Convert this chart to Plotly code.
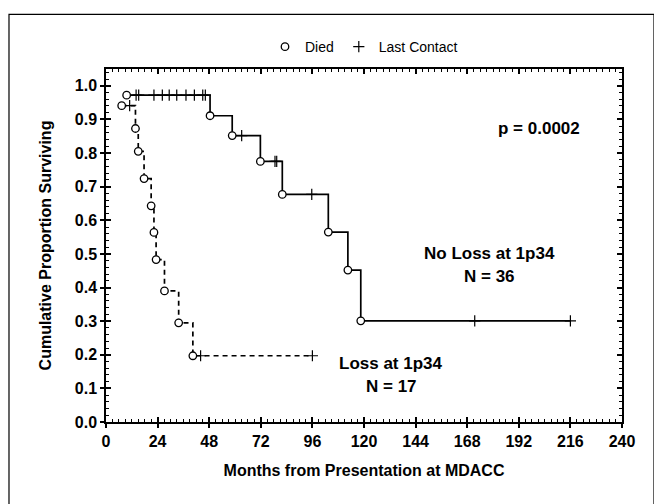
import plotly.graph_objects as go

# ---- data ----
# No Loss at 1p34 (N = 36): deaths (time in months, survival after the death)
noloss_death_t = [9.6, 48.4, 58.7, 71.8, 82.0, 103.4, 112.5, 118.5]
noloss_death_s = [0.972, 0.911, 0.852, 0.775, 0.677, 0.565, 0.452, 0.301]
noloss_cens_t = [14.0, 15.2, 22.3, 26.2, 29.4, 32.9, 37.2, 41.1, 45.0, 46.2,
                 63.1, 78.6, 79.4, 95.7, 171.5, 216.0]
noloss_cens_s = [0.972] * 10 + [0.852, 0.775, 0.775, 0.677, 0.301, 0.301]

# Loss at 1p34 (N = 17)
loss_death_t = [7.3, 13.7, 15.0, 17.7, 21.0, 22.3, 23.3, 27.2, 33.8, 40.4]
loss_death_s = [0.941, 0.873, 0.805, 0.724, 0.643, 0.564, 0.483, 0.390, 0.295, 0.197]
loss_cens_t = [11.0, 44.0, 96.0]
loss_cens_s = [0.941, 0.197, 0.197]

x_ticks = [0, 24, 48, 72, 96, 120, 144, 168, 192, 216, 240]
y_ticks = [0.0, 0.1, 0.2, 0.3, 0.4, 0.5, 0.6, 0.7, 0.8, 0.9, 1.0]

FONT = "Liberation Sans, Arial, sans-serif"

fig = go.Figure()

# step lines
fig.add_trace(go.Scatter(
    x=noloss_death_t + [noloss_cens_t[-1]],
    y=noloss_death_s + [noloss_death_s[-1]],
    mode="lines", line=dict(color="black", width=1.7, shape="hv"),
    showlegend=False, hoverinfo="skip"))
fig.add_trace(go.Scatter(
    x=loss_death_t + [loss_cens_t[-1]],
    y=loss_death_s + [loss_death_s[-1]],
    mode="lines", line=dict(color="black", width=1.7, shape="hv", dash="5px,4px"),
    showlegend=False, hoverinfo="skip"))

# censored marks
fig.add_trace(go.Scatter(
    x=noloss_cens_t + loss_cens_t, y=noloss_cens_s + loss_cens_s,
    mode="markers", name="Last Contact",
    marker=dict(symbol="cross-thin-open", size=8, color="black",
                line=dict(color="black", width=1.2))))

# deaths
fig.add_trace(go.Scatter(
    x=noloss_death_t + loss_death_t, y=noloss_death_s + loss_death_s,
    mode="markers", name="Died",
    marker=dict(symbol="circle", size=7.5, color="white",
                line=dict(color="black", width=1.3))))

# invisible trace for overlay axes (crossing ticks)
fig.add_trace(go.Scatter(x=[None], y=[None], xaxis="x2", yaxis="y2",
                         showlegend=False, hoverinfo="skip"))

tickfont = dict(family=FONT, size=16, color="black", weight="bold")
titlefont = dict(family=FONT, size=16, color="black", weight="bold")

# the page body has an 8px margin, so the figure is drawn 8px smaller
fig.update_layout(
    width=654, height=496,
    margin=dict(l=98, r=40, t=61, b=82),
    paper_bgcolor="white", plot_bgcolor="white",
    font=dict(family=FONT, color="black"),
    legend=dict(orientation="h", x=0.5, xanchor="center", y=1.062, yanchor="middle",
                font=dict(family=FONT, size=14, color="black"),
                traceorder="reversed", itemwidth=30, bgcolor="rgba(0,0,0,0)"),
    xaxis=dict(range=[0, 240], tickvals=x_ticks, ticktext=[str(v) for v in x_ticks],
               ticks="inside", ticklen=5, tickwidth=1.5, tickcolor="black",
               minor=dict(dtick=3, tick0=0, ticks="inside", ticklen=3, tickwidth=1,
                          tickcolor="black", showgrid=False),
               showline=True, linewidth=1.5, linecolor="black", mirror="allticks",
               showgrid=False, zeroline=False, tickfont=tickfont,
               ticklabelstandoff=4,
               title=dict(text="Months from Presentation at MDACC", font=titlefont,
                          standoff=16)),
    yaxis=dict(range=[0, 1.05], tickvals=y_ticks, ticktext=[f"{v:.1f}" for v in y_ticks],
               ticks="inside", ticklen=5, tickwidth=1.5, tickcolor="black",
               minor=dict(dtick=0.02, tick0=0, ticks="inside", ticklen=3, tickwidth=1,
                          tickcolor="black", showgrid=False),
               showline=True, linewidth=1.5, linecolor="black", mirror="allticks",
               showgrid=False, zeroline=False, tickfont=tickfont,
               ticklabelstandoff=4,
               title=dict(text="Cumulative Proportion Surviving", font=titlefont,
                          standoff=19)),
    xaxis2=dict(overlaying="x", range=[0, 240], tickvals=x_ticks, side="bottom",
                ticks="outside", ticklen=5, tickwidth=1.5, tickcolor="black",
                showticklabels=False, showline=False, showgrid=False, zeroline=False),
    yaxis2=dict(overlaying="y", range=[0, 1.05], tickvals=y_ticks, side="left",
                ticks="outside", ticklen=5, tickwidth=1.5, tickcolor="black",
                showticklabels=False, showline=False, showgrid=False, zeroline=False),
)

ann_font = dict(family=FONT, size=17, color="black", weight="bold")
fig.add_annotation(x=201.4, y=0.874, text="p = 0.0002", showarrow=False, font=ann_font)
fig.add_annotation(x=178.6, y=0.502, text="No Loss at 1p34", showarrow=False, font=ann_font)
fig.add_annotation(x=178.6, y=0.434, text="N = 36", showarrow=False, font=ann_font)
fig.add_annotation(x=132.6, y=0.174, text="Loss at 1p34", showarrow=False, font=ann_font)
fig.add_annotation(x=132.6, y=0.106, text="N = 17", showarrow=False, font=ann_font)

# outer frame of the figure
fig.add_shape(type="rect", xref="paper", yref="paper",
              x0=-0.188, x1=1.062, y0=-0.25, y1=1.155,
              line=dict(color="black", width=1.2), fillcolor="rgba(0,0,0,0)", layer="below")

fig.write_html("out.html")
